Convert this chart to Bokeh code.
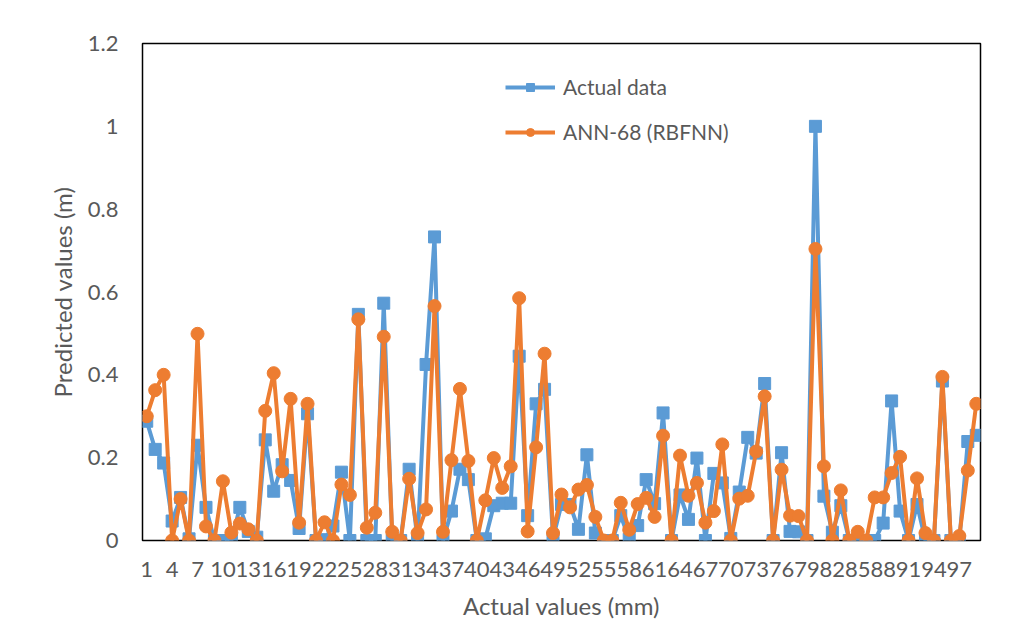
from bokeh.plotting import figure
from bokeh.models import Range1d, FixedTicker, Legend, LegendItem
from bokeh.embed import file_html
from bokeh.resources import INLINE

sample_ids = list(range(1, 100))

actual = [0.288, 0.220, 0.187, 0.047, 0.104, 0.004, 0.230, 0.080, 0.0, 0.0,
          0.0, 0.080, 0.022, 0.008, 0.243, 0.119, 0.183, 0.145, 0.029, 0.306,
          0.0, 0.002, 0.035, 0.165, 0.0, 0.546, 0.0, 0.0, 0.573, 0.0,
          0.0, 0.172, 0.0, 0.425, 0.733, 0.0, 0.071, 0.172, 0.147, 0.0,
          0.004, 0.084, 0.090, 0.090, 0.445, 0.060, 0.330, 0.365, 0.006, 0.087,
          0.087, 0.027, 0.207, 0.018, 0.0, 0.0, 0.060, 0.003, 0.036, 0.147,
          0.089, 0.308, 0.0, 0.110, 0.051, 0.199, 0.0, 0.162, 0.139, 0.005,
          0.117, 0.249, 0.211, 0.379, 0.0, 0.212, 0.022, 0.021, 0.0, 1.0,
          0.107, 0.020, 0.084, 0.0, 0.0, 0.0, 0.0, 0.042, 0.337, 0.071,
          0.0, 0.087, 0.0, 0.0, 0.385, 0.0, 0.0, 0.239, 0.254]

ann_rbfnn = [0.300, 0.363, 0.400, 0.0, 0.100, 0.0, 0.499, 0.034, 0.0, 0.143,
             0.019, 0.041, 0.027, 0.0, 0.313, 0.404, 0.167, 0.342, 0.043, 0.330,
             0.0, 0.044, 0.0, 0.135, 0.110, 0.534, 0.031, 0.067, 0.492, 0.021,
             0.0, 0.149, 0.018, 0.075, 0.566, 0.021, 0.194, 0.366, 0.192, 0.0,
             0.097, 0.199, 0.127, 0.179, 0.585, 0.022, 0.225, 0.451, 0.018, 0.111,
             0.080, 0.123, 0.134, 0.057, 0.0, 0.0, 0.091, 0.026, 0.088, 0.103,
             0.057, 0.253, 0.0, 0.205, 0.108, 0.139, 0.043, 0.071, 0.232, 0.0,
             0.101, 0.108, 0.215, 0.348, 0.0, 0.171, 0.060, 0.059, 0.0, 0.704,
             0.179, 0.0, 0.121, 0.0, 0.021, 0.0, 0.104, 0.104, 0.163, 0.202,
             0.0, 0.150, 0.018, 0.0, 0.395, 0.0, 0.011, 0.169, 0.330]

x_tick_values = list(range(1, 98, 3))
y_tick_values = [0, 0.2, 0.4, 0.6, 0.8, 1.0, 1.2]
y_tick_labels = {0: "0", 0.2: "0.2", 0.4: "0.4", 0.6: "0.6", 0.8: "0.8", 1.0: "1", 1.2: "1.2"}

BLUE = "#5B9BD5"
ORANGE = "#ED7D31"
GREY = "#595959"
FONT = "Lato"

p = figure(width=1004, height=622, output_backend="svg", toolbar_location=None,
           x_range=Range1d(0.5, 99.5), y_range=Range1d(0, 1.2),
           min_border_left=142, min_border_right=24, min_border_top=43,
           min_border_bottom=81)

p.xgrid.visible = False
p.ygrid.visible = False
p.outline_line_color = "black"
p.outline_line_width = 1.5
p.outline_line_alpha = 1.0

r1l = p.line(sample_ids, actual, line_color=BLUE, line_width=4)
r1s = p.scatter(sample_ids, actual, marker="square", size=12, color=BLUE)
r2l = p.line(sample_ids, ann_rbfnn, line_color=ORANGE, line_width=4)
r2s = p.scatter(sample_ids, ann_rbfnn, marker="circle", size=13, color=ORANGE)

for ax in (p.xaxis[0], p.yaxis[0]):
    ax.axis_line_color = None
    ax.major_tick_line_color = None
    ax.minor_tick_line_color = None
    ax.major_tick_in = 0
    ax.major_tick_out = 0
    ax.minor_tick_in = 0
    ax.minor_tick_out = 0
    ax.major_label_text_font = FONT
    ax.major_label_text_font_size = "22px"
    ax.major_label_text_color = GREY
    ax.axis_label_text_font = FONT
    ax.axis_label_text_font_size = "24px"
    ax.axis_label_text_font_style = "normal"
    ax.axis_label_text_color = GREY

p.xaxis.ticker = FixedTicker(ticks=x_tick_values)
p.xaxis.axis_label = "Actual values (mm)"
p.xaxis.major_label_standoff = 21
p.xaxis.axis_label_standoff = 11

p.yaxis.ticker = FixedTicker(ticks=y_tick_values)
p.yaxis.major_label_overrides = y_tick_labels
p.yaxis.axis_label = "Predicted values (m)"
p.yaxis.major_label_standoff = 24
p.yaxis.axis_label_standoff = 8

legend = Legend(items=[LegendItem(label="Actual data", renderers=[r1l, r1s]),
                       LegendItem(label="ANN-68 (RBFNN)", renderers=[r2l, r2s])],
                location=(363, 396))
legend.glyph_width = 50
legend.glyph_height = 20
legend.label_height = 20
legend.label_standoff = 8
legend.spacing = 20
legend.padding = 0
legend.margin = 0
legend.border_line_color = None
legend.background_fill_alpha = 0
legend.label_text_font = FONT
legend.label_text_font_size = "21px"
legend.label_text_color = GREY
p.add_layout(legend)

open("out.html", "w").write(file_html(p, INLINE))
